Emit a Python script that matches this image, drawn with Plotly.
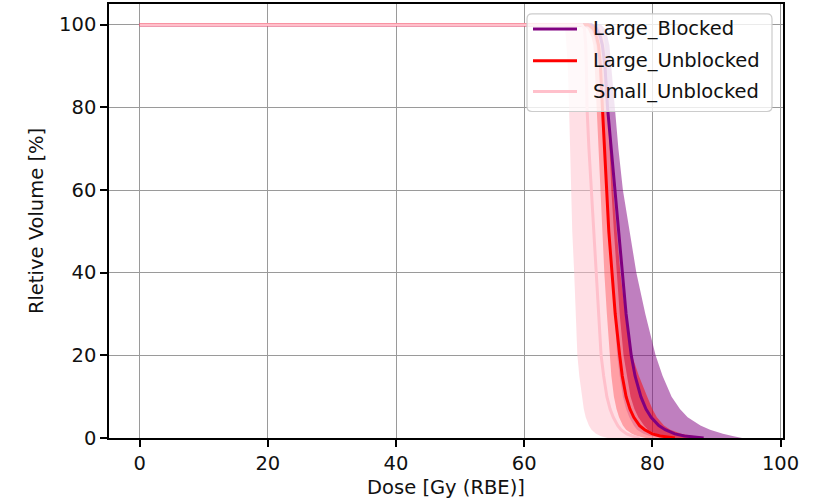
import plotly.graph_objects as go

# Dose-volume histogram: dose [Gy (RBE)] at which each curve reaches a volume level
volume_levels = [100, 99, 97, 95, 90, 80, 70, 60, 50, 40, 30, 20, 15, 10, 7, 5, 3, 2, 1, 0.5, 0]

series_names = ["Large_Blocked", "Large_Unblocked", "Small_Unblocked"]

large_blocked_mean = [70.5, 71.3, 71.9, 72.2, 72.6, 73.0, 73.6, 74.2, 74.7, 75.3, 75.9,
                      76.7, 77.3, 78.2, 79.0, 79.8, 81.0, 82.0, 83.5, 85.0, 88.0]
large_blocked_low = [69.5, 70.3, 70.9, 71.2, 71.7, 72.1, 72.5, 72.9, 73.3, 73.7, 74.1,
                     74.5, 74.9, 75.4, 75.9, 76.4, 77.1, 77.6, 78.6, 79.6, 82.0]
large_blocked_high = [72.0, 72.6, 73.0, 73.3, 73.6, 74.1, 74.7, 75.4, 76.4, 77.5, 78.9,
                      80.5, 81.6, 83.0, 84.3, 85.5, 87.5, 89.0, 91.0, 92.5, 94.0]

large_unblocked_mean = [70.0, 70.8, 71.3, 71.6, 71.9, 72.2, 72.5, 72.8, 73.2, 73.7, 74.2,
                        74.9, 75.3, 75.9, 76.5, 77.1, 78.0, 78.8, 80.0, 81.2, 83.5]
large_unblocked_low = [68.8, 69.9, 70.5, 70.8, 71.0, 71.3, 71.5, 71.8, 72.1, 72.5, 72.9,
                       73.3, 73.6, 74.0, 74.4, 74.8, 75.4, 75.9, 76.8, 77.6, 79.0]
large_unblocked_high = [71.5, 71.9, 72.3, 72.5, 72.8, 73.2, 73.5, 73.9, 74.4, 75.0, 75.8,
                        76.8, 77.9, 79.2, 80.0, 80.7, 81.8, 82.8, 84.5, 86.0, 88.0]

small_unblocked_mean = [69.0, 69.4, 69.5, 69.6, 69.7, 69.8, 70.1, 70.5, 70.8, 71.2, 71.6,
                        72.0, 72.4, 72.9, 73.4, 73.9, 74.6, 75.1, 76.0, 76.8, 78.0]
small_unblocked_low = [66.2, 66.4, 66.5, 66.6, 66.8, 67.0, 67.15, 67.3, 67.5, 67.8, 68.0,
                       68.3, 68.6, 69.0, 69.3, 69.6, 70.1, 70.5, 71.2, 71.9, 73.0]
small_unblocked_high = [71.5, 72.1, 72.4, 72.6, 72.8, 73.0, 73.3, 73.6, 74.0, 74.4, 74.9,
                        75.5, 76.0, 76.6, 77.2, 77.8, 78.7, 79.3, 80.5, 81.5, 83.0]

x_ticks = [0, 20, 40, 60, 80, 100]
y_ticks = [0, 20, 40, 60, 80, 100]

line_colors = ["#800080", "#ff0000", "#ffc0cb"]
band_colors = ["rgba(128,0,128,0.5)", "rgba(255,0,0,0.5)", "rgba(255,192,203,0.5)"]

means = [large_blocked_mean, large_unblocked_mean, small_unblocked_mean]
lows = [large_blocked_low, large_unblocked_low, small_unblocked_low]
highs = [large_blocked_high, large_unblocked_high, small_unblocked_high]

FONT = "DejaVu Sans"
FS = 19.5
W, H = 818, 503
ML, MR, MT, MB = 109, 35, 2, 65

fig = go.Figure()

# spread bands first
for name, lo, hi, col in zip(series_names, lows, highs, band_colors):
    fig.add_trace(go.Scatter(
        x=lo + hi[::-1], y=volume_levels + volume_levels[::-1],
        mode="lines", fill="toself", fillcolor=col, line=dict(width=0),
        hoverinfo="skip", showlegend=False, name=name + " band"))

# mean curves, flat at 100 % from 0 Gy
for name, m, col in zip(series_names, means, line_colors):
    fig.add_trace(go.Scatter(
        x=[0] + m, y=[100] + volume_levels, mode="lines",
        line=dict(color=col, width=3), name=name, showlegend=False))

axis_common = dict(
    showgrid=True, gridcolor="#9a9a9a", gridwidth=1.3, zeroline=False,
    showline=True, linecolor="black", linewidth=1.5, mirror=True,
    ticks="outside", ticklen=7, tickwidth=1.5, tickcolor="black",
    tickfont=dict(family=FONT, size=FS, color="#111111"),
)

fig.update_layout(
    width=W, height=H,
    margin=dict(l=ML, r=MR, t=MT, b=MB),
    paper_bgcolor="white", plot_bgcolor="white",
    font=dict(family=FONT, size=FS, color="#111111"),
    showlegend=False,
    xaxis=dict(range=[-4.78, 100.38], tickvals=x_ticks,
               title=dict(text="Dose [Gy (RBE)]", font=dict(family=FONT, size=FS), standoff=6),
               **axis_common),
    yaxis=dict(range=[0, 105], tickvals=y_ticks,
               title=dict(text="Rletive Volume [%]", font=dict(family=FONT, size=FS), standoff=10),
               **axis_common),
)

# legend box drawn in pixel units of the plotting area
pw, ph = W - ML - MR, H - MT - MB


def px(xp):
    return (xp - ML) / pw


def py(yp):
    return (H - MB - yp) / ph


x0, x1, y0, y1, r = 527, 772, 12, 110, 5
path = (f"M {px(x0 + r)},{py(y0)} L {px(x1 - r)},{py(y0)} "
        f"Q {px(x1)},{py(y0)} {px(x1)},{py(y0 + r)} L {px(x1)},{py(y1 - r)} "
        f"Q {px(x1)},{py(y1)} {px(x1 - r)},{py(y1)} L {px(x0 + r)},{py(y1)} "
        f"Q {px(x0)},{py(y1)} {px(x0)},{py(y1 - r)} L {px(x0)},{py(y0 + r)} "
        f"Q {px(x0)},{py(y0)} {px(x0 + r)},{py(y0)} Z")
fig.add_shape(type="path", path=path, xref="paper", yref="paper",
              fillcolor="rgba(255,255,255,0.8)", line=dict(color="#cccccc", width=1.2),
              layer="above")

row_y = [27, 59, 90]
for name, col, yy in zip(series_names, line_colors, row_y):
    fig.add_shape(type="line", xref="paper", yref="paper",
                  x0=px(533), x1=px(577), y0=py(yy), y1=py(yy),
                  line=dict(color=col, width=3), layer="above")
    fig.add_annotation(x=px(591), y=py(yy), xref="paper", yref="paper",
                       text=name, showarrow=False, xanchor="left", yanchor="middle",
                       font=dict(family=FONT, size=FS, color="#111111"))

fig.write_html("out.html")
